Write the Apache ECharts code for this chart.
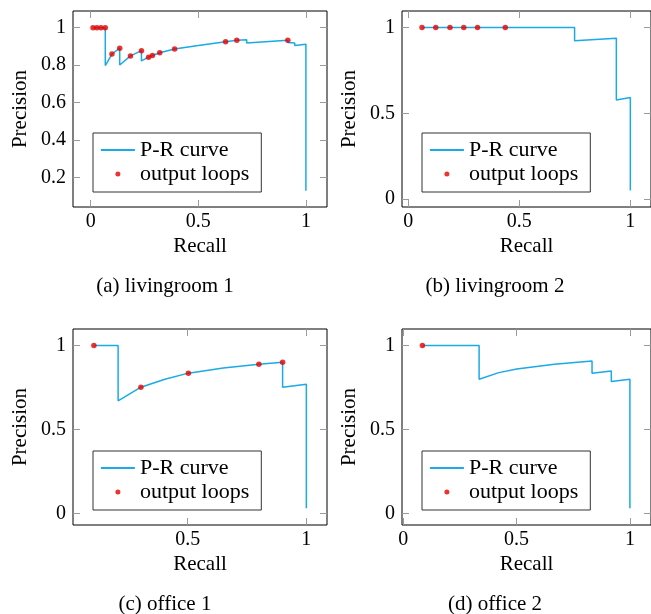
<!DOCTYPE html>
<html>
<head>
<meta charset="utf-8">
<script src="https://cdn.jsdelivr.net/npm/echarts@6/dist/echarts.min.js"></script>
<style>
  html, body { margin: 0; padding: 0; background: #fff; }
  #chart { width: 651px; height: 614px; }
</style>
</head>
<body>
<div id="chart"></div>
<script>
// (a) livingroom 1
const curveRecallA = [0.011, 0.068, 0.068, 0.099, 0.135, 0.135, 0.185, 0.236, 0.236, 0.269, 0.287, 0.321, 0.390, 0.500, 0.627, 0.679, 0.725, 0.725, 0.916, 0.916, 0.948, 0.948, 1.0, 1.0]
const curvePrecisionA = [1.0, 1.0, 0.797, 0.859, 0.890, 0.800, 0.849, 0.877, 0.822, 0.842, 0.851, 0.866, 0.886, 0.904, 0.925, 0.933, 0.935, 0.918, 0.933, 0.920, 0.918, 0.904, 0.911, 0.128]
const loopRecallA = [0.011, 0.029, 0.048, 0.068, 0.099, 0.135, 0.185, 0.236, 0.269, 0.287, 0.321, 0.390, 0.627, 0.679, 0.916]
const loopPrecisionA = [1, 1, 1, 1, 0.859, 0.890, 0.849, 0.877, 0.842, 0.851, 0.866, 0.886, 0.925, 0.933, 0.933]

// (b) livingroom 2
const curveRecallB = [0.062, 0.749, 0.749, 0.937, 0.937, 1.0, 1.0]
const curvePrecisionB = [1.0, 1.0, 0.924, 0.938, 0.578, 0.592, 0.05]
const loopRecallB = [0.062, 0.124, 0.188, 0.25, 0.312, 0.437]
const loopPrecisionB = [1, 1, 1, 1, 1, 1]

// (c) office 1
const curveRecallC = [0.105, 0.207, 0.207, 0.303, 0.404, 0.503, 0.65, 0.8, 0.9, 0.9, 1.0, 1.0]
const curvePrecisionC = [1.0, 1.0, 0.67, 0.751, 0.799, 0.835, 0.865, 0.888, 0.9, 0.751, 0.769, 0.03]
const loopRecallC = [0.105, 0.303, 0.503, 0.8, 0.9]
const loopPrecisionC = [1, 0.751, 0.835, 0.888, 0.9]

// (d) office 2
const curveRecallD = [0.085, 0.335, 0.335, 0.422, 0.501, 0.667, 0.833, 0.833, 0.918, 0.918, 1.0, 1.0]
const curvePrecisionD = [1.0, 1.0, 0.799, 0.838, 0.859, 0.888, 0.908, 0.835, 0.847, 0.785, 0.799, 0.03]
const loopRecallD = [0.085]
const loopPrecisionD = [1]

// tick labels
const xTicksA = [0, 0.5, 1]
const yTicksA = [0.2, 0.4, 0.6, 0.8, 1]
const xTicksB = [0, 0.5, 1]
const yTicksB = [0, 0.5, 1]
const xTicksC = [0.5, 1]
const yTicksC = [0, 0.5, 1]
const xTicksD = [0, 0.5, 1]
const yTicksD = [0, 0.5, 1]

const captions = ['(a) livingroom 1', '(b) livingroom 2', '(c) office 1', '(d) office 2']

const zip = (xs, ys) => xs.map((x, i) => [x, ys[i]])

const panels = [
  { left: 73, top: 11, width: 254, xMin: -0.082, xMax: 1.098, yMin: 0.041, yMax: 1.089,
    xTicks: xTicksA, yTicks: yTicksA, curve: zip(curveRecallA, curvePrecisionA), loops: zip(loopRecallA, loopPrecisionA),
    capX: 165, capY: 274, legendLeft: 93, legendTop: 133 },
  { left: 402, top: 11, width: 253, xMin: -0.028, xMax: 1.093, yMin: -0.047, yMax: 1.097,
    xTicks: xTicksB, yTicks: yTicksB, curve: zip(curveRecallB, curvePrecisionB), loops: zip(loopRecallB, loopPrecisionB),
    capX: 495, capY: 274, legendLeft: 422, legendTop: 133 },
  { left: 73, top: 329, width: 254, xMin: 0.017, xMax: 1.087, yMin: -0.07, yMax: 1.098,
    xTicks: xTicksC, yTicks: yTicksC, curve: zip(curveRecallC, curvePrecisionC), loops: zip(loopRecallC, loopPrecisionC),
    capX: 165, capY: 592, legendLeft: 93, legendTop: 451 },
  { left: 402, top: 329, width: 253, xMin: -0.005, xMax: 1.093, yMin: -0.07, yMax: 1.098,
    xTicks: xTicksD, yTicks: yTicksD, curve: zip(curveRecallD, curvePrecisionD), loops: zip(loopRecallD, loopPrecisionD),
    capX: 495, capY: 592, legendLeft: 422, legendTop: 451 }
]

const font = 'Liberation Serif'
const blue = '#1aaae6'
const red = '#e60000'
const tickStyle = { show: true, inside: true, length: 7, lineStyle: { color: '#9a9a9a', width: 1 } }

const chart = echarts.init(document.getElementById('chart'))

const xAxis = []
const yAxis = []
const series = []

panels.forEach((p, i) => {
  // bottom / left axes with labels
  xAxis.push({
    type: 'value', gridIndex: i, min: p.xMin, max: p.xMax, position: 'bottom',
    name: 'Recall', nameLocation: 'middle', nameGap: 29,
    nameTextStyle: { fontFamily: font, fontSize: 21, color: '#000' },
    axisLine: { show: false, onZero: false },
    axisTick: { ...tickStyle, customValues: p.xTicks },
    axisLabel: { customValues: p.xTicks, margin: 5, fontFamily: font, fontSize: 20, color: '#000' },
    splitLine: { show: false }
  })
  yAxis.push({
    type: 'value', gridIndex: i, min: p.yMin, max: p.yMax, position: 'left',
    name: 'Precision', nameLocation: 'middle', nameGap: 42,
    nameTextStyle: { fontFamily: font, fontSize: 21, color: '#000' },
    axisLine: { show: false, onZero: false },
    axisTick: { ...tickStyle, customValues: p.yTicks },
    axisLabel: { customValues: p.yTicks, margin: 7, fontFamily: font, fontSize: 20, color: '#000' },
    splitLine: { show: false }
  })
})

// mirrored ticks on top / right
panels.forEach((p, i) => {
  xAxis.push({
    type: 'value', gridIndex: i, min: p.xMin, max: p.xMax, position: 'top',
    axisLine: { show: false, onZero: false },
    axisTick: { ...tickStyle, customValues: p.xTicks },
    axisLabel: { show: false },
    splitLine: { show: false }
  })
  yAxis.push({
    type: 'value', gridIndex: i, min: p.yMin, max: p.yMax, position: 'right',
    axisLine: { show: false, onZero: false },
    axisTick: { ...tickStyle, customValues: p.yTicks },
    axisLabel: { show: false },
    splitLine: { show: false }
  })
})

panels.forEach((p, i) => {
  series.push({
    name: 'P-R curve', type: 'line', xAxisIndex: i, yAxisIndex: i,
    data: p.curve, symbol: 'none', color: blue,
    lineStyle: { color: blue, width: 1.5 }, z: 2
  })
  series.push({
    name: 'output loops', type: 'scatter', xAxisIndex: i, yAxisIndex: i,
    data: p.loops, symbol: 'circle', symbolSize: 5.5, color: red,
    itemStyle: { color: red }, z: 3
  })
})

chart.setOption({
  animation: false,
  backgroundColor: '#fff',
  grid: panels.map(p => ({
    left: p.left, top: p.top, width: p.width, height: 196,
    show: true, borderColor: '#000', borderWidth: 1, backgroundColor: 'transparent'
  })),
  title: panels.map((p, i) => ({
    text: captions[i], left: p.capX, top: p.capY, padding: 0,
    textAlign: 'center',
    textStyle: { fontFamily: font, fontSize: 21, fontWeight: 'normal', color: '#000', lineHeight: 24 }
  })),
  legend: panels.map(p => ({
    left: p.legendLeft, top: p.legendTop, orient: 'vertical',
    data: [
      { name: 'P-R curve', itemStyle: { opacity: 0 }, lineStyle: { width: 1.8 } },
      { name: 'output loops' }
    ],
    itemWidth: 34, itemHeight: 5, itemGap: 2,
    padding: [6, 12, 7, 7],
    borderColor: '#333', borderWidth: 1, backgroundColor: '#fff',
    selectedMode: false,
    textStyle: { fontFamily: font, fontSize: 22, lineHeight: 22, color: '#000' }
  })),
  xAxis,
  yAxis,
  series
})
</script>
</body>
</html>
